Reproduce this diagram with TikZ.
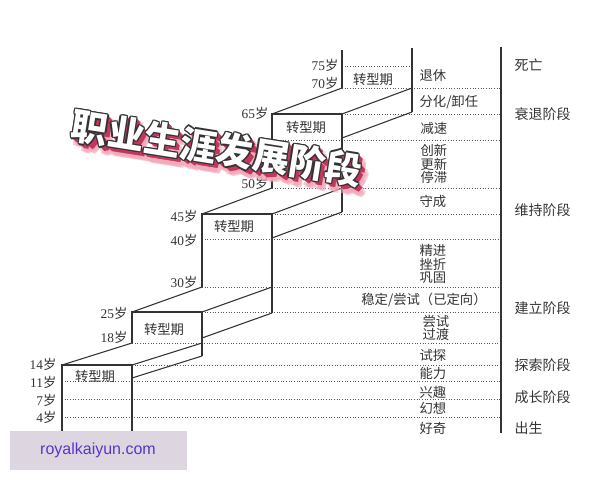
\documentclass[tikz,border=0pt]{standalone}
\usepackage{fontspec}
\setmainfont{Liberation Serif}
\newfontfamily\cjk{Noto Sans CJK SC}
\newfontfamily\wmfont{Liberation Sans}
\usetikzlibrary{positioning}

\definecolor{inkgray}{HTML}{333333}
\definecolor{dotgray}{HTML}{555555}
\definecolor{shadowred}{HTML}{C0395C}
\definecolor{glowpink}{HTML}{F2A7B8}
\definecolor{wmback}{HTML}{DDD6E0}
\definecolor{wmtext}{HTML}{5A34C6}

\newcommand{\sui}[1]{#1{\cjk 岁}}
\newcommand{\titletext}{职业生涯发展阶段}

\tikzset{
  edge/.style={draw=inkgray, line width=0.8pt},
  dots/.style={draw=dotgray, line width=0.6pt, dash pattern=on 0.8pt off 1.2pt},
  age/.style={anchor=east, inner sep=1pt, text=inkgray, font=\fontsize{10}{10}\selectfont},
  phase/.style={anchor=west, inner sep=1pt, text=inkgray, align=left, font=\cjk\fontsize{10}{10.3}\selectfont},
  period/.style={inner sep=1pt, text=inkgray, font=\cjk\fontsize{10}{10}\selectfont},
  stage/.style={anchor=west, inner sep=1pt, text=inkgray, font=\cjk\fontsize{10.5}{10.5}\selectfont},
  headline/.style={rotate=-9, inner sep=0pt, font=\cjk\bfseries\fontsize{27.5}{27.5}\selectfont},
}

\begin{document}
\begin{tikzpicture}[x=0.75pt, y=-0.75pt]
  \useasboundingbox (0,0) rectangle (600,480);

  % dotted age lines
  \draw[dots] (342,66) -- (412,66);
  \foreach \y/\xa in {88/342, 114/342, 140/272, 188/272, 214/272, 239/202,
                      287/202, 312/202, 343/132, 365/132, 381/62, 399/62, 417/62} {
    \draw[dots] (\xa,\y) -- (501,\y);
  }

  % steps: left x, top, left bottom, right bottom, rise, side
  \foreach \xl/\tp/\lb/\rb/\rs/\sd in {62/365/437/437/22/13, 132/312/343/356/25/26,
                                      202/214/287/313/26/24, 272/114/188/212/26/24} {
    \draw[edge] (\xl,\lb) -- (\xl,\tp) -- (\xl+70,\tp) -- (\xl+70,\rb);
    \draw[edge] (\xl,\tp) -- ++(70,-\rs);
    \draw[edge] (\xl+70,\tp) -- ++(70,-\rs);
    \draw[edge] (\xl+70,\tp+\sd) -- ++(70,-\rs);
  }
  % top step
  \draw[edge] (342,88) -- (342,50);
  \draw[edge] (412,48) -- (412,112);

  % divider
  \draw[inkgray, line width=1.3pt] (501,47) -- (501,433);

  % ages
  \node[age] (a75) at (340,65)  {\sui{75}};
  \node[age] (a70) at (340,83)  {\sui{70}};
  \node[age] (a65) at (270,113) {\sui{65}};
  \node[age] (a50) at (270,183) {\sui{50}};
  \node[age] (a45) at (199,216) {\sui{45}};
  \node[age] (a40) at (199,240) {\sui{40}};
  \node[age] (a30) at (199,282) {\sui{30}};
  \node[age] (a25) at (129,313) {\sui{25}};
  \node[age] (a18) at (129,337) {\sui{18}};
  \node[age] (a14) at (58,364)  {\sui{14}};
  \node[age] (a11) at (58,382)  {\sui{11}};
  \node[age] (a7)  at (58,400)  {\sui{7}};
  \node[age] (a4)  at (58,417)  {\sui{4}};

  % transition boxes
  \node[period] (p1) at (95,376)  {转型期};
  \node[period] (p2) at (164,329) {转型期};
  \node[period] (p3) at (234,226) {转型期};
  \node[period] (p4) at (306,127) {转型期};
  \node[period] (p5) at (373,79)  {转型期};

  % middle column
  \node[phase] (f1)  at (418,75)  {退休};
  \node[phase] (f2)  at (418,102) {分化/卸任};
  \node[phase] (f3)  at (419,128) {减速};
  \node[phase] (f4)  at (419,164) {创新\\更新\\停滞};
  \node[phase] (f5)  at (418,201) {守成};
  \node[phase] (f6)  at (418,264) {精进\\挫折\\巩固};
  \node[period] (f7) at (424,300) {稳定/尝试（已定向）};
  \node[phase] (f8)  at (421,328) {尝试\\过渡};
  \node[phase] (f9)  at (418,355) {试探};
  \node[phase] (f10) at (418,373) {能力};
  \node[phase] (f11) at (418,392) {兴趣};
  \node[phase] (f12) at (418,408) {幻想};
  \node[phase] (f13) at (418,428) {好奇};

  % right column
  \node[stage] (s1) at (513,65)  {死亡};
  \node[stage] (s2) at (513,114) {衰退阶段};
  \node[stage] (s3) at (513,210) {维持阶段};
  \node[stage] (s4) at (513,308) {建立阶段};
  \node[stage] (s5) at (513,365) {探索阶段};
  \node[stage] (s6) at (513,397) {成长阶段};
  \node[stage] (s7) at (513,428) {出生};

  % title with shadow
  \foreach \dx/\dy in {4/8, 7/5, 5/9, 8/8, 2/8, 7/10} {
    \node[headline, text=glowpink, opacity=0.55] at (217+\dx,148+\dy) {\titletext};
  }
  \foreach \d in {1,1.5,...,4.5} {
    \node[headline, text=shadowred] at (217+\d,148+\d) {\titletext};
  }
  \foreach \dx/\dy in {-1.3/0, 1.3/0, 0/-1.3, 0/1.3, -1/-1, 1/1, -1/1, 1/-1} {
    \node[headline, text=inkgray] at (217+\dx,148+\dy) {\titletext};
  }
  \node[headline, text=white] (title) at (217,148) {\titletext};

  % watermark
  \fill[wmback] (10,431) rectangle (187,470);
  \node[text=wmtext, font=\wmfont\fontsize{12}{12}\selectfont] (site) at (98,450) {royalkaiyun.com};
\end{tikzpicture}
\end{document}
